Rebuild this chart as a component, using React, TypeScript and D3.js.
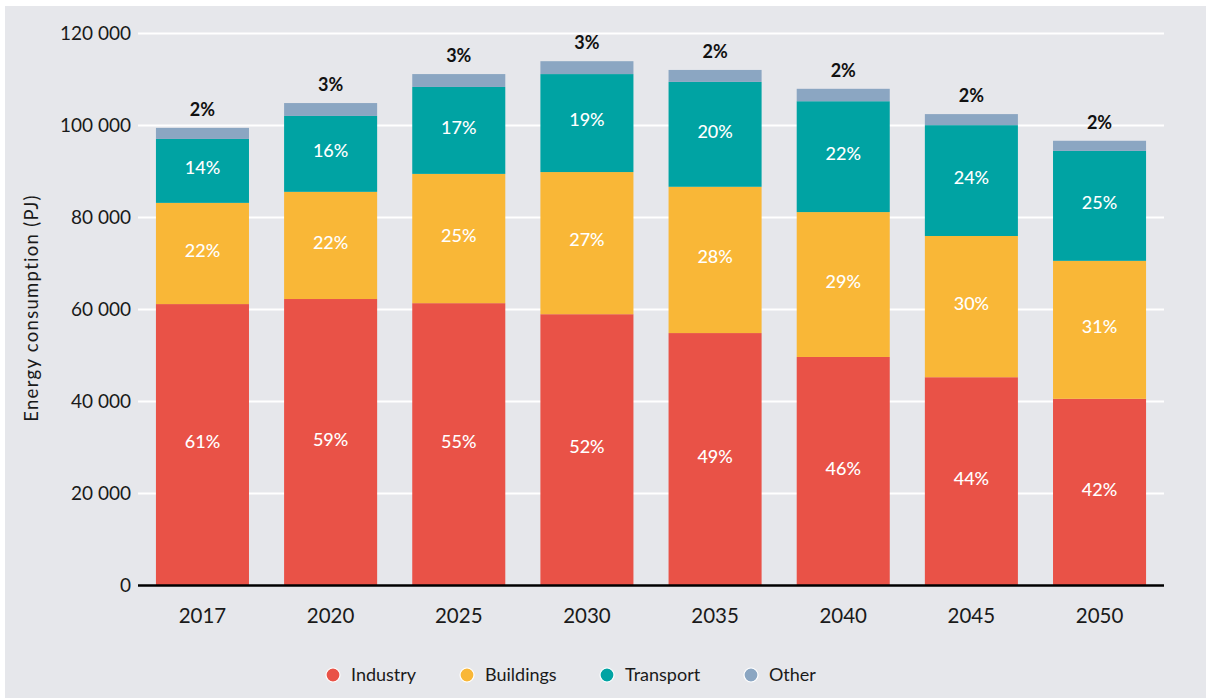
import React from "react";
import * as d3 from "d3";

const years = ["2017", "2020", "2025", "2030", "2035", "2040", "2045", "2050"];
const industry = [61200, 62300, 61400, 59000, 54900, 49700, 45300, 40600];
const buildings = [22000, 23300, 28100, 30900, 31800, 31500, 30700, 30000];
const transport = [13900, 16500, 18900, 21300, 22800, 24100, 24100, 23900];
const other = [2400, 2800, 2800, 2800, 2600, 2700, 2400, 2200];

const industryPct = ["61%", "59%", "55%", "52%", "49%", "46%", "44%", "42%"];
const buildingsPct = ["22%", "22%", "25%", "27%", "28%", "29%", "30%", "31%"];
const transportPct = ["14%", "16%", "17%", "19%", "20%", "22%", "24%", "25%"];
const otherPct = ["2%", "3%", "3%", "3%", "2%", "2%", "2%", "2%"];

const yTicks = [0, 20000, 40000, 60000, 80000, 100000, 120000];
const seriesNames = ["Industry", "Buildings", "Transport", "Other"];
const colors = ["#e95247", "#f9b737", "#00a3a3", "#8ba6c2"];

const W = 1206;
const H = 698;
const FONT = "Lato, 'Open Sans', sans-serif";

export default function App() {
  const x = d3.scaleBand<string>().domain(years).range([138, 1164]).paddingInner(0.274).paddingOuter(0.14);
  const y = d3.scaleLinear().domain([0, 120000]).range([585.6, 33.6]);

  const rows = years.map((yr, i) => ({
    year: yr,
    Industry: industry[i],
    Buildings: buildings[i],
    Transport: transport[i],
    Other: other[i],
  }));
  const stack = d3.stack<any>().keys(seriesNames)(rows);
  const labels = [industryPct, buildingsPct, transportPct, otherPct];
  const fmt = (v: number) => (v === 0 ? "0" : d3.format(",")(v).replace(/,/g, " "));

  const legendX = [333, 467, 607, 751];

  return (
    <div style={{ position: "absolute", left: 0, top: 0 }}>
      <svg width={W} height={H} style={{ display: "block", fontFamily: FONT }}>
        <rect x={0} y={0} width={W} height={H} fill="#ffffff" />
        <rect x={5} y={6} width={W - 5} height={H - 6} fill="#e6e7eb" />
        {yTicks.map((t) => (
          <g key={t}>
            {t > 0 && (
              <line x1={138} x2={1164} y1={y(t)} y2={y(t)} stroke="#ffffff" strokeWidth={2} />
            )}
            <text x={131} y={y(t)} dy="0.35em" textAnchor="end" fontSize={19} fill="#1a1a1a">
              {fmt(t)}
            </text>
          </g>
        ))}
        <text
          transform={`translate(32,308) rotate(-90)`}
          textAnchor="middle"
          fontSize={18.5}
          letterSpacing={1.3}
          fill="#1a1a1a"
          dy="0.35em"
        >
          Energy consumption (PJ)
        </text>
        {stack.map((s, si) => (
          <g key={s.key}>
            {s.map((d, i) => (
              <rect
                key={i}
                x={x(years[i])}
                width={x.bandwidth()}
                y={y(d[1])}
                height={y(d[0]) - y(d[1])}
                fill={colors[si]}
              />
            ))}
          </g>
        ))}
        {stack.map((s, si) =>
          s.map((d, i) => {
            const cx = (x(years[i]) as number) + x.bandwidth() / 2;
            if (si === 3) {
              return (
                <text key={`l${si}-${i}`} x={cx} y={y(d[1]) - 12} textAnchor="middle" fontSize={18} fontWeight={700} fill="#111">
                  {labels[si][i]}
                </text>
              );
            }
            return (
              <text
                key={`l${si}-${i}`}
                x={cx}
                y={(y(d[0]) + y(d[1])) / 2 - 3}
                dy="0.35em"
                textAnchor="middle"
                fontSize={18}
                fontWeight={500}
                fill="#ffffff"
              >
                {labels[si][i]}
              </text>
            );
          })
        )}
        <line x1={138} x2={1164} y1={y(0)} y2={y(0)} stroke="#000" strokeWidth={2.5} />
        {years.map((yr) => (
          <text
            key={yr}
            x={(x(yr) as number) + x.bandwidth() / 2}
            y={616}
            dy="0.35em"
            textAnchor="middle"
            fontSize={20.5}
            fill="#1a1a1a"
          >
            {yr}
          </text>
        ))}
        {seriesNames.map((n, i) => (
          <g key={n}>
            <circle cx={legendX[i]} cy={675} r={7} fill={colors[i]} stroke="#fff" strokeWidth={1.2} />
            <text x={legendX[i] + 18} y={675} dy="0.35em" fontSize={18} fill="#1a1a1a">
              {n}
            </text>
          </g>
        ))}
      </svg>
    </div>
  );
}
